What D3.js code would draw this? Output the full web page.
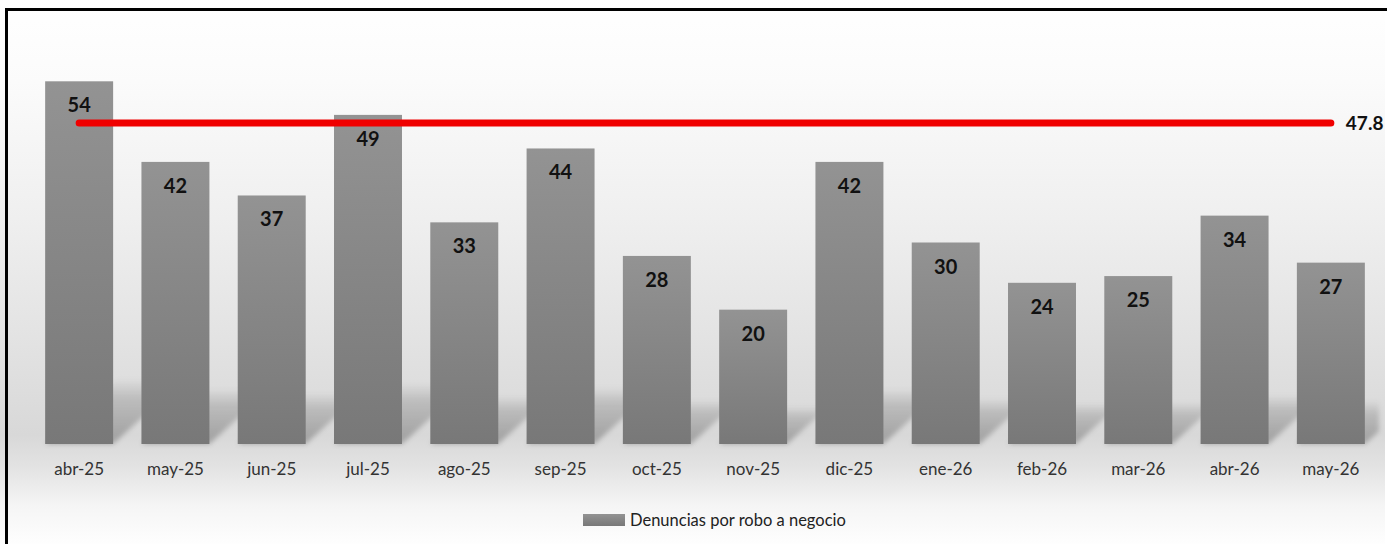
<!DOCTYPE html>
<html>
<head>
<meta charset="utf-8">
<script src="https://cdn.jsdelivr.net/npm/d3@7/dist/d3.min.js"></script>
<style>
  html, body { margin: 0; padding: 0; background: #ffffff; overflow: hidden; }
  svg { display: block; }
  text { font-family: Lato, "Open Sans", "DejaVu Sans", sans-serif; }
</style>
</head>
<body>
<div id="chart"></div>
<script>
// Monthly reports of business robbery
const categories = ["abr-25", "may-25", "jun-25", "jul-25", "ago-25", "sep-25", "oct-25",
                    "nov-25", "dic-25", "ene-26", "feb-26", "mar-26", "abr-26", "may-26"];
const denuncias = [54, 42, 37, 49, 33, 44, 28, 20, 42, 30, 24, 25, 34, 27];
const promedio = 47.8;
const seriesName = "Denuncias por robo a negocio";
const yDomain = [0, 60];

const W = 1387, H = 544;
const plot = { left: 31, right: 1379, top: 41, bottom: 444 };

const svg = d3.select("#chart").append("svg")
  .attr("width", W).attr("height", H);

const defs = svg.append("defs");

// chart area background: soft vertical grey wash
const bg = defs.append("linearGradient").attr("id", "bgGrad")
  .attr("x1", 0).attr("y1", 0).attr("x2", 0).attr("y2", 1);
[[0, "#ffffff"], [0.15, "#fbfbfb"], [0.4, "#efefef"], [0.62, "#e3e3e3"],
 [0.8, "#d8d8d8"], [0.86, "#e3e3e3"], [0.93, "#f5f5f5"], [1, "#fefefe"]]
  .forEach(([o, c]) => bg.append("stop").attr("offset", o).attr("stop-color", c));

// bar fill
const barGrad = defs.append("linearGradient").attr("id", "barGrad")
  .attr("x1", 0).attr("y1", 0).attr("x2", 0).attr("y2", 1);
barGrad.append("stop").attr("offset", 0).attr("stop-color", "#939393");
barGrad.append("stop").attr("offset", 1).attr("stop-color", "#787878");

svg.append("rect").attr("x", 0).attr("y", 0).attr("width", W - 2).attr("height", H)
  .attr("fill", "url(#bgGrad)");

const x = d3.scaleBand().domain(categories)
  .range([plot.left, plot.right]).paddingInner(0.294).paddingOuter(0.147);
const y = d3.scaleLinear().domain(yDomain).range([plot.bottom, plot.top]);

// soft cast shadows: a fading band slanting up to the right from each bar foot
const shadowLayer = svg.append("g");
const shGrad = defs.append("linearGradient").attr("id", "shGrad")
  .attr("x1", 0).attr("y1", 1).attr("x2", 0).attr("y2", 0);
shGrad.append("stop").attr("offset", 0).attr("stop-color", "#000").attr("stop-opacity", 0.26);
shGrad.append("stop").attr("offset", 0.7).attr("stop-color", "#000").attr("stop-opacity", 0.14);
shGrad.append("stop").attr("offset", 1).attr("stop-color", "#000").attr("stop-opacity", 0);
defs.append("filter").attr("id", "shBlur")
  .attr("x", "-10%").attr("y", "-20%").attr("width", "120%").attr("height", "140%")
  .append("feGaussianBlur").attr("stdDeviation", 2.5);
shadowLayer.selectAll("path").data(categories).join("path")
  .attr("d", (c, i) => {
    const x0 = x(c), x1 = x(c) + x.bandwidth();
    const h = y(0) - y(denuncias[i]);
    const hs = 0.12 * h + 22, d = hs * 1.1;
    const b = y(0);
    const xr = Math.min(x1 + d, plot.right);
    const yr = b - hs * (xr - x1) / d;
    return `M${x0},${b}L${x1},${b}L${xr},${yr}L${xr},${b - hs}L${x0 + d},${b - hs}Z`;
  })
  .attr("fill", "url(#shGrad)")
  .attr("filter", "url(#shBlur)");

// bars
svg.append("g").selectAll("rect").data(categories).join("rect")
  .attr("x", c => x(c))
  .attr("y", (c, i) => y(denuncias[i]))
  .attr("width", x.bandwidth())
  .attr("height", (c, i) => y(0) - y(denuncias[i]))
  .attr("fill", "url(#barGrad)");

// average line
const first = categories[0], last = categories[categories.length - 1];
svg.append("line")
  .attr("x1", x(first) + x.bandwidth() / 2)
  .attr("x2", x(last) + x.bandwidth() / 2)
  .attr("y1", y(promedio)).attr("y2", y(promedio))
  .attr("stroke", "#f00000").attr("stroke-width", 7).attr("stroke-linecap", "round");

svg.append("text")
  .attr("x", x(last) + x.bandwidth() / 2 + 15)
  .attr("y", y(promedio))
  .attr("dy", "0.36em")
  .attr("font-size", 19).attr("font-weight", 700).attr("fill", "#111")
  .text(promedio.toFixed(1));

// value labels inside bar tops
svg.append("g").selectAll("text").data(categories).join("text")
  .attr("x", c => x(c) + x.bandwidth() / 2)
  .attr("y", (c, i) => y(denuncias[i]) + 31)
  .attr("text-anchor", "middle")
  .attr("font-size", 20).attr("font-weight", 700).attr("fill", "#111")
  .text((c, i) => denuncias[i]);

// category axis
const xAxis = svg.append("g")
  .attr("transform", `translate(0,${plot.bottom})`)
  .call(d3.axisBottom(x).tickSize(0).tickPadding(19));
xAxis.select(".domain").remove();
xAxis.selectAll("text")
  .attr("font-family", "Lato, 'Open Sans', sans-serif")
  .attr("font-size", 17).attr("fill", "#333");

// legend
const legend = svg.append("g").attr("transform", "translate(583,514)");
legend.append("rect").attr("width", 42).attr("height", 12).attr("fill", "url(#barGrad)");
legend.append("text").attr("x", 47).attr("y", 6).attr("dy", "0.35em")
  .attr("font-size", 16.5).attr("fill", "#222").text(seriesName);

// chart frame: top and left edges run off the canvas
svg.append("path")
  .attr("d", `M6.5,${H}V9.5H${W}`)
  .attr("fill", "none").attr("stroke", "#000").attr("stroke-width", 3);
</script>
</body>
</html>
